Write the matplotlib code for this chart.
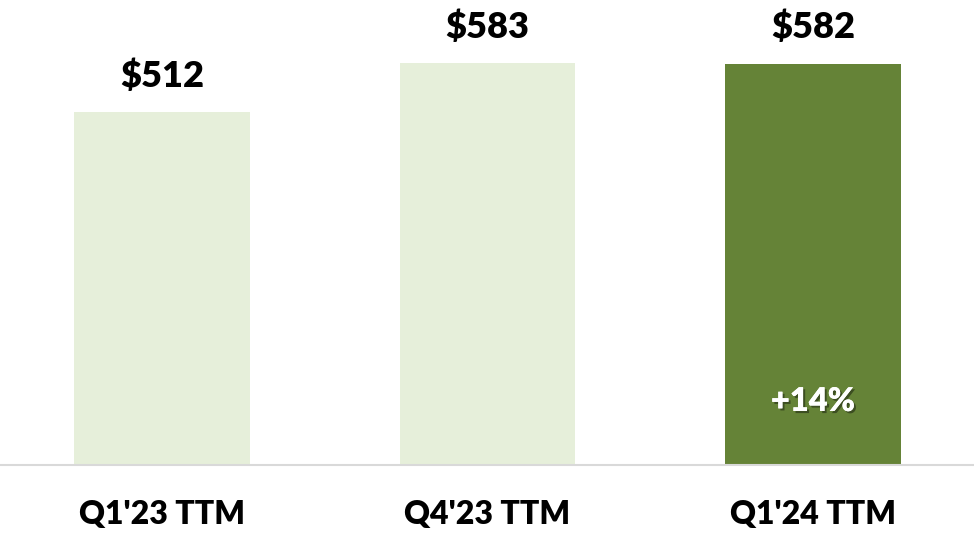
import matplotlib
matplotlib.use("Agg")
import matplotlib.pyplot as plt
import matplotlib.patheffects as pe

categories = ["Q1'23 TTM", "Q4'23 TTM", "Q1'24 TTM"]
values = [512, 583, 582]
value_labels = ["$512", "$583", "$582"]
growth_label = "+14%"

plt.rcParams['font.family'] = ['Lato', 'DejaVu Sans']

fig = plt.figure(figsize=(9.74, 5.34), dpi=100)
ax = fig.add_axes([0, 69/534, 1, 465/534])
colors = ['#E6EFDA', '#E6EFDA', '#658337']
x = list(range(len(categories)))
bars = ax.bar(x, values, width=0.54, color=colors, zorder=2)
ax.set_xlim(-0.498, 2.495)
ax.set_ylim(0, 465 / (402 / 583))

for xi, v, lab in zip(x, values, value_labels):
    ax.annotate(lab, (xi, v), xytext=(0, 36 * 0.72), textcoords='offset points',
                ha='center', va='center', fontsize=26, fontweight='heavy', color='black')

ax.annotate(growth_label, (2, 0), xytext=(0, 64 * 0.72), textcoords='offset points',
            ha='center', va='center', fontsize=23.5, fontweight='heavy', color='white',
            path_effects=[pe.withSimplePatchShadow(offset=(1.5, -1.5), shadow_rgbFace='black', alpha=0.4), pe.Normal()])

for s in ['top', 'right', 'left']:
    ax.spines[s].set_visible(False)
ax.spines['bottom'].set_color('#D9D9D9')
ax.spines['bottom'].set_linewidth(1.5)
ax.set_yticks([])
ax.set_xticks(x)
ax.set_xticklabels(categories, fontsize=23, fontweight='heavy')
ax.tick_params(axis='x', length=0, pad=25)

fig.savefig('out.png', dpi=100)
